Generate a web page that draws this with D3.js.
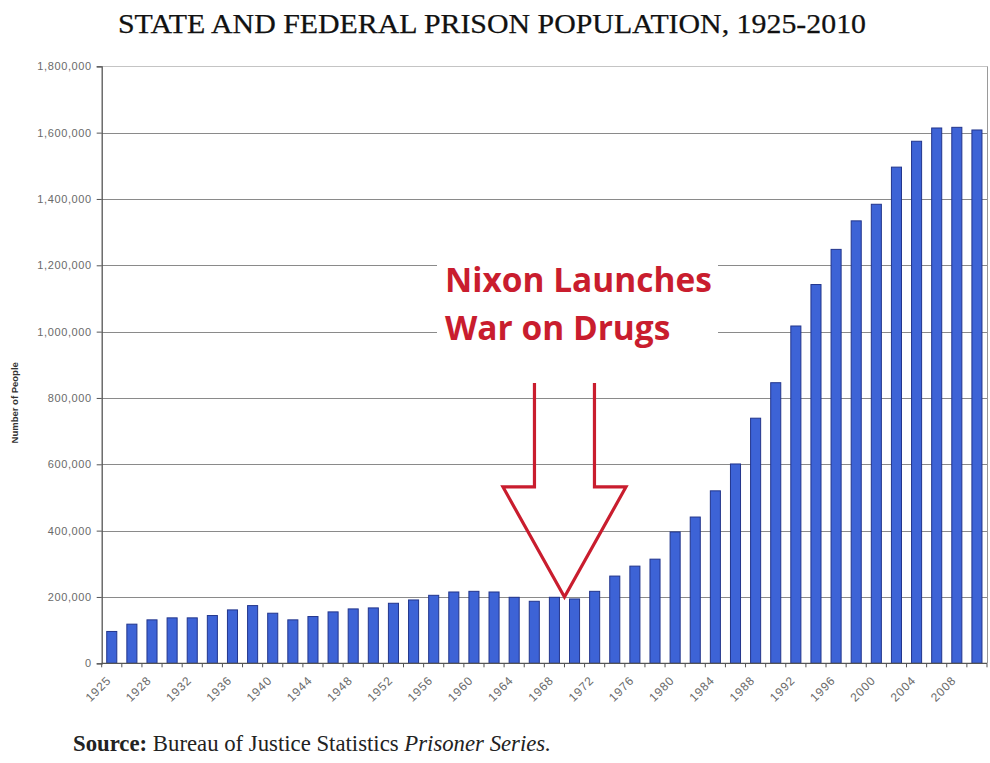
<!DOCTYPE html>
<html>
<head>
<meta charset="utf-8">
<script src="https://cdn.jsdelivr.net/npm/d3@7/dist/d3.min.js"></script>
<style>
  html, body { margin: 0; padding: 0; background: #ffffff; }
  svg { display: block; }
</style>
</head>
<body>
<svg id="chart" width="990" height="763"></svg>
<script>
// ---------- DATA ----------
const categories = ["1925","1926","1928","1930","1932","1934","1936","1938","1940","1942",
  "1944","1946","1948","1950","1952","1954","1956","1958","1960","1962",
  "1964","1966","1968","1970","1972","1974","1976","1978","1980","1982",
  "1984","1986","1988","1990","1992","1994","1996","1998","2000","2002",
  "2004","2006","2008","2010"];
const prisoners = [96000,118000,131000,137000,137000,144000,161000,174000,151000,131000,
  141000,155000,164000,167000,181000,191000,205000,215000,217000,215000,
  199000,187000,199000,194000,217000,263000,293000,314000,396000,441000,
  520000,601000,739000,846000,1017000,1142000,1248000,1334000,1384000,1496000,
  1574000,1614000,1616000,1608000];
const shownXLabels = ["1925","1928","1932","1936","1940","1944","1948","1952","1956","1960",
  "1964","1968","1972","1976","1980","1984","1988","1992","1996","2000","2004","2008"];
const yTicks = [0,200000,400000,600000,800000,1000000,1200000,1400000,1600000,1800000];
const titleText = "STATE AND FEDERAL PRISON POPULATION, 1925-2010";
const yTitle = "Number of People";
const annotationLines = ["Nixon Launches", "War on Drugs"];
const annotationTip = { after: "1968", value: 200000 };

// ---------- LAYOUT ----------
const svg = d3.select("#chart");
const L = 101.7, R = 987, T = 66.3, B = 663.3;

const x = d3.scaleBand().domain(categories).range([L, R]).paddingInner(0.5).paddingOuter(0.25);
const y = d3.scaleLinear().domain([0, 1800000]).range([B, T]);
const step = x.step();

// Title
svg.append("text")
  .attr("x", 492).attr("y", 33)
  .attr("text-anchor", "middle")
  .attr("font-family", "'Liberation Serif', 'Times New Roman', serif")
  .attr("font-size", 27)
  .attr("fill", "#111")
  .attr("stroke", "#111").attr("stroke-width", 0.25)
  .attr("textLength", 748).attr("lengthAdjust", "spacingAndGlyphs")
  .text(titleText);

// Gridlines
svg.append("g").selectAll("line").data(yTicks.filter(d => d > 0)).join("line")
  .attr("x1", L).attr("x2", R)
  .attr("y1", d => Math.round(y(d)) + 0.5).attr("y2", d => Math.round(y(d)) + 0.5)
  .attr("stroke", d => d === 1800000 ? "#c4c4c4" : "#8a8a8a")
  .attr("stroke-width", 1.2);

// Right border of plot area
svg.append("line")
  .attr("x1", R + 0.5).attr("x2", R + 0.5).attr("y1", T).attr("y2", B)
  .attr("stroke", "#9a9a9a").attr("stroke-width", 1);

// Bars
svg.append("g").selectAll("rect").data(categories).join("rect")
  .attr("x", d => x(d))
  .attr("y", (d, i) => y(prisoners[i]))
  .attr("width", x.bandwidth())
  .attr("height", (d, i) => B - y(prisoners[i]))
  .attr("fill", "#3d63d6")
  .attr("stroke", "#22358c")
  .attr("stroke-width", 1);

// Y axis
const yAxis = d3.axisLeft(y).tickValues(yTicks).tickFormat(d3.format(",")).tickSize(5).tickPadding(5);
const gy = svg.append("g").attr("transform", `translate(${L},0)`).call(yAxis);
gy.select(".domain").attr("stroke", "#555").attr("stroke-width", 1.3);
gy.selectAll(".tick line").attr("stroke", "#555");
gy.selectAll(".tick text")
  .attr("font-family", "'Liberation Sans', Arial, sans-serif")
  .attr("font-size", 11).attr("letter-spacing", 0.6)
  .attr("fill", "#6a6a6a");

// X axis (ticks between categories)
const gx = svg.append("g");
gx.append("line").attr("x1", L).attr("x2", R).attr("y1", B).attr("y2", B)
  .attr("stroke", "#555").attr("stroke-width", 1.3);
const boundaries = categories.map(c => x(c) - step * 0.25).concat([x(categories[categories.length - 1]) + step * 0.75]);
gx.selectAll("line.tk").data(boundaries).join("line").attr("class", "tk")
  .attr("x1", d => d).attr("x2", d => d).attr("y1", B).attr("y2", B + 4)
  .attr("stroke", "#555").attr("stroke-width", 1);
gx.selectAll("text").data(categories.filter(c => shownXLabels.includes(c))).join("text")
  .attr("transform", d => `translate(${x(d) + x.bandwidth() / 2 - 3},${B + 15}) rotate(-45)`)
  .attr("text-anchor", "end")
  .attr("dy", "0.35em")
  .attr("font-family", "'Liberation Sans', Arial, sans-serif")
  .attr("font-size", 12).attr("letter-spacing", 0.8)
  .attr("fill", "#6a6a6a")
  .text(d => d);

// Y axis title
svg.append("text")
  .attr("transform", `translate(18,${(T + B) / 2 + 38}) rotate(-90)`)
  .attr("text-anchor", "middle")
  .attr("font-family", "'Liberation Sans', Arial, sans-serif")
  .attr("font-weight", "bold")
  .attr("font-size", 9.5)
  .attr("fill", "#333")
  .text(yTitle);

// Annotation: white box + red text
const red = "#c91d2e";
svg.append("rect").attr("x", 437).attr("y", 252).attr("width", 281).attr("height", 100).attr("fill", "#fff");
const ann = svg.append("g");
annotationLines.forEach((t, i) => {
  ann.append("text")
    .attr("x", 445).attr("y", 292 + i * 48)
    .attr("font-family", "'Open Sans', 'Noto Sans', sans-serif")
    .attr("font-weight", "bold")
    .attr("font-size", 28)
    .attr("fill", red)
    .text(t);
});
{
  const first = ann.select("text").node();
  const w = first.getComputedTextLength();
  ann.selectAll("text").attr("font-size", 28 * 267 / w);
}

// Arrow (hollow), tip anchored at boundary after annotationTip.after, at value level
const tipX = x(annotationTip.after) + step * 0.75;
const tipY = y(annotationTip.value);
const shaftHalf = 30, wingHalf = 61.5, headH = 110, totalH = 214;
const arrowPts = [
  [tipX - shaftHalf, tipY - totalH],
  [tipX - shaftHalf, tipY - headH],
  [tipX - wingHalf, tipY - headH],
  [tipX, tipY],
  [tipX + wingHalf, tipY - headH],
  [tipX + shaftHalf, tipY - headH],
  [tipX + shaftHalf, tipY - totalH]
];
svg.append("path")
  .attr("d", d3.line()(arrowPts))
  .attr("fill", "none")
  .attr("stroke", red)
  .attr("stroke-width", 3.2)
  .attr("stroke-linejoin", "miter");

// Source line
const src = svg.append("text")
  .attr("x", 73).attr("y", 751)
  .attr("font-family", "'Liberation Serif', 'Times New Roman', serif")
  .attr("font-size", 16)
  .attr("fill", "#222");
src.append("tspan").attr("font-weight", "bold").text("Source:");
src.append("tspan").text(" Bureau of Justice Statistics ");
src.append("tspan").attr("font-style", "italic").text("Prisoner Series.");
{
  const w = src.node().getComputedTextLength();
  src.attr("font-size", 16 * 478 / w);
}
</script>
</body>
</html>
